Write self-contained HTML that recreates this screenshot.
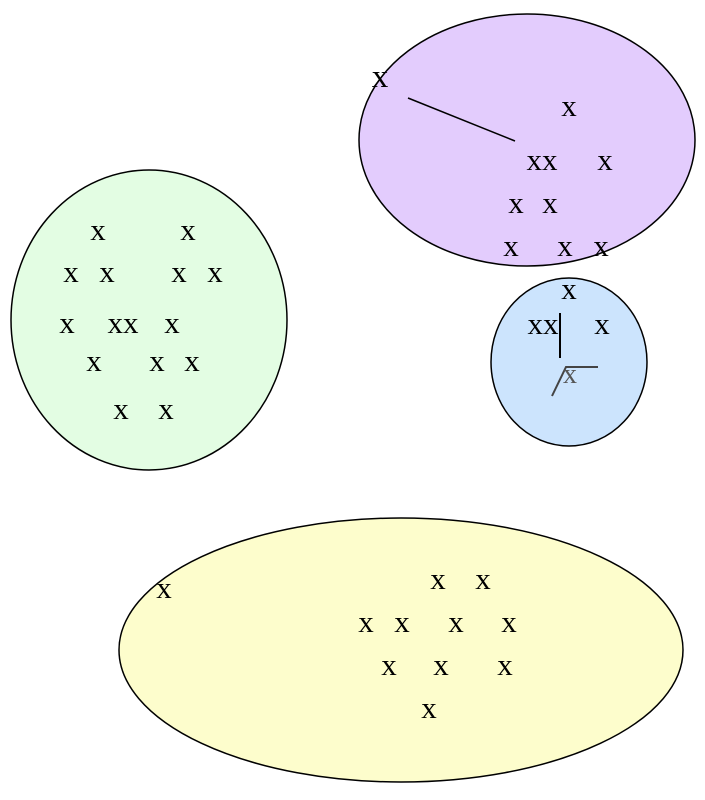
<!DOCTYPE html>
<html><head><meta charset="utf-8"><style>
html,body{margin:0;padding:0;background:#fff;}
svg{display:block;}
text{font-family:"Liberation Serif",serif;font-size:31px;fill:#000;text-anchor:middle;}
</style></head><body>
<svg width="705" height="800" viewBox="0 0 705 800" xmlns="http://www.w3.org/2000/svg">
<ellipse cx="527" cy="140" rx="168" ry="126" fill="#e3ccfd" stroke="#000" stroke-width="1.5"/>
<ellipse cx="149" cy="320" rx="138" ry="150" fill="#e3fde3" stroke="#000" stroke-width="1.5"/>
<ellipse cx="569" cy="362" rx="78" ry="84" fill="#cce4fd" stroke="#000" stroke-width="1.5"/>
<ellipse cx="401" cy="650" rx="282" ry="132" fill="#fdfdcc" stroke="#000" stroke-width="1.5"/>
<line x1="408" y1="98" x2="515" y2="141" stroke="#000" stroke-width="1.5"/>
<line x1="560" y1="313" x2="560" y2="358" stroke="#000" stroke-width="2"/>
<polyline points="552,396 566,367 598,367" fill="none" stroke="#444" stroke-width="2"/>
<g>
<text x="380" y="87" style="font-size:33px">x</text>
<text x="569" y="116">x</text>
<text x="542" y="170">xx</text>
<text x="605" y="170">x</text>
<text x="516" y="213">x</text>
<text x="550" y="213">x</text>
<text x="511" y="256">x</text>
<text x="565" y="256">x</text>
<text x="601" y="256">x</text>

<text x="569" y="299">x</text>
<text x="543" y="334">xx</text>
<text x="602" y="334">x</text>
<text x="570" y="383" style="font-size:28px;fill:#555">x</text>

<text x="98" y="240">x</text>
<text x="188" y="240">x</text>
<text x="71" y="282">x</text>
<text x="107" y="282">x</text>
<text x="179" y="282">x</text>
<text x="215" y="282">x</text>
<text x="67" y="333">x</text>
<text x="123" y="333">xx</text>
<text x="172" y="333">x</text>
<text x="94" y="371">x</text>
<text x="157" y="371">x</text>
<text x="192" y="371">x</text>
<text x="121" y="419">x</text>
<text x="166" y="419">x</text>

<text x="164" y="598">x</text>
<text x="438" y="589">x</text>
<text x="483" y="589">x</text>
<text x="366" y="632">x</text>
<text x="402" y="632">x</text>
<text x="456" y="632">x</text>
<text x="509" y="632">x</text>
<text x="389" y="675">x</text>
<text x="441" y="675">x</text>
<text x="505" y="675">x</text>
<text x="429" y="718">x</text>
</g>
</svg>
</body></html>
